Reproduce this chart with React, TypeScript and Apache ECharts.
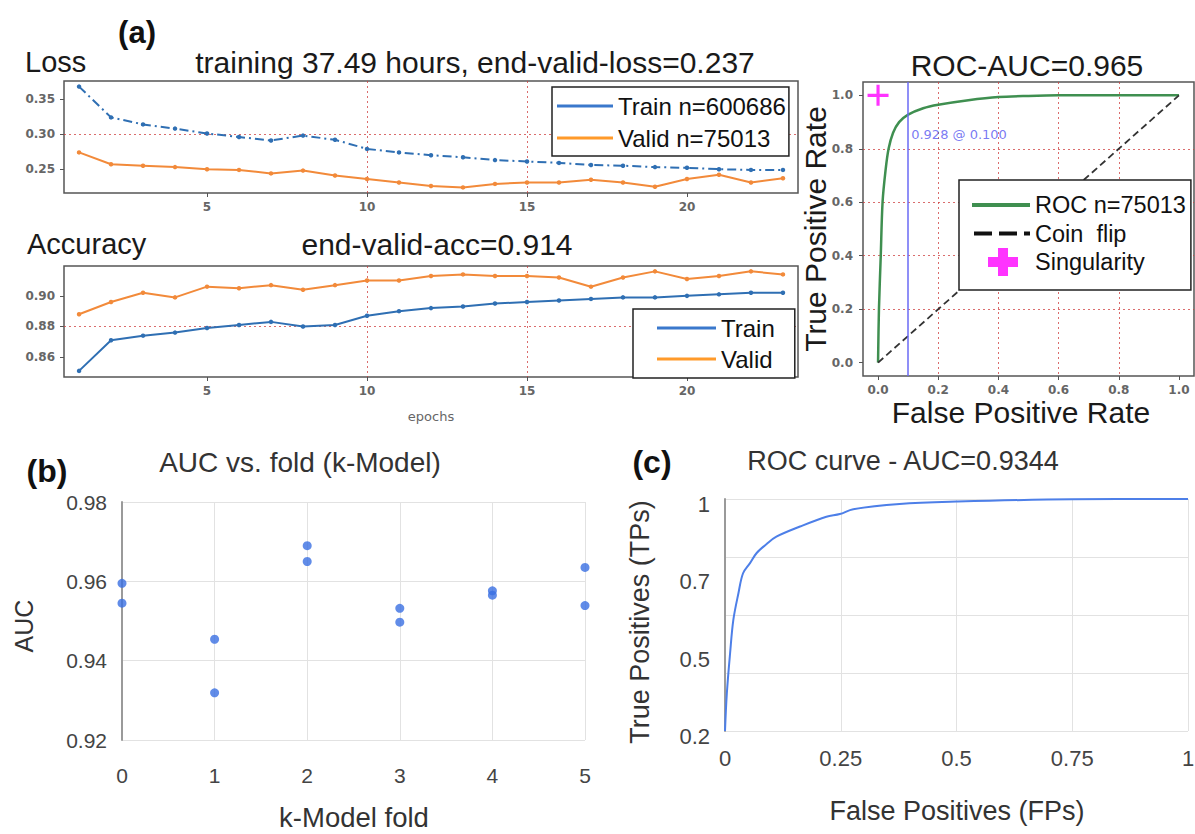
import React, { useEffect, useRef } from "react";
import * as echarts from "echarts";

// ---------- data ----------
const EPOCHS = [1, 2, 3, 4, 5, 6, 7, 8, 9, 10, 11, 12, 13, 14, 15, 16, 17, 18, 19, 20, 21, 22, 23];
const LOSS_TRAIN = [0.368, 0.324, 0.314, 0.308, 0.301, 0.296, 0.291, 0.298, 0.292, 0.279, 0.274, 0.27, 0.267, 0.263, 0.261, 0.259, 0.256, 0.255, 0.253, 0.252, 0.25, 0.249, 0.249];
const LOSS_VALID = [0.274, 0.257, 0.255, 0.253, 0.25, 0.249, 0.244, 0.248, 0.241, 0.236, 0.231, 0.226, 0.224, 0.229, 0.231, 0.231, 0.235, 0.231, 0.225, 0.236, 0.242, 0.231, 0.237];
const ACC_TRAIN = [0.851, 0.871, 0.874, 0.876, 0.879, 0.881, 0.883, 0.88, 0.881, 0.887, 0.89, 0.892, 0.893, 0.895, 0.896, 0.897, 0.898, 0.899, 0.899, 0.9, 0.901, 0.902, 0.902];
const ACC_VALID = [0.888, 0.896, 0.902, 0.899, 0.906, 0.905, 0.907, 0.904, 0.907, 0.91, 0.91, 0.913, 0.914, 0.913, 0.913, 0.912, 0.906, 0.912, 0.916, 0.911, 0.913, 0.916, 0.914];

const ROC_FPR = [0, 0.003, 0.009, 0.015, 0.025, 0.035, 0.05, 0.07, 0.1, 0.15, 0.2, 0.3, 0.4, 0.5, 0.6, 1.0];
const ROC_TPR = [0, 0.2, 0.4, 0.6, 0.72, 0.8, 0.86, 0.9, 0.928, 0.952, 0.965, 0.982, 0.994, 0.998, 1.0, 1.0];
const COIN_X = [0, 1];
const COIN_Y = [0, 1];
const SING_X = [0];
const SING_Y = [1];
const ANNOT = { x: 0.1, y: 0.853, text: "0.928 @ 0.100" };
const THRESH_FPR = 0.1;

const FOLDS = [0, 0, 1, 1, 2, 2, 3, 3, 4, 4, 5, 5];
const FOLD_AUC = [0.9595, 0.9545, 0.9454, 0.9319, 0.969, 0.965, 0.9532, 0.9497, 0.9576, 0.9565, 0.9635, 0.9539];

const C_FPR = [0, 0.004, 0.011, 0.018, 0.029, 0.039, 0.054, 0.068, 0.09, 0.111, 0.162, 0.219, 0.248, 0.277, 0.377, 0.5, 0.75, 1.0];
const C_TPR = [0.2, 0.33, 0.468, 0.583, 0.675, 0.744, 0.779, 0.813, 0.845, 0.87, 0.905, 0.939, 0.948, 0.965, 0.983, 0.991, 0.999, 1.0];
const C_Y_LABELS = ["0.2", "0.5", "0.7", "1"];

// ---------- styles ----------
const BLUE = "#2f6fb3";
const ORANGE = "#f28a3a";
const GREEN = "#3f8f50";
const MAGENTA = "#ff00ff";
const SANS = "Liberation Sans, Arial, sans-serif";
const MPL = "DejaVu Sans, sans-serif";
const COIN_NAME = "Coin\u00a0\u00a0flip";

function lineIcon(w: number, h: number, t: number) {
  return `path://M0,0L0.01,0M${w},${h}L${w - 0.01},${h}M0,${h / 2 - t / 2}h${w}v${t}h-${w}z`;
}
const DASH_ICON = "path://M0,0L0.01,0M58,28L57.99,28M2,12h18v4h-18zM27,12h18v4h-18zM52,12h6v4h-6z";
const PLUS_ICON_LEGEND = "path://M0,0L0.01,0M58,28L57.99,28M16,9h10v-9h10v9h10v10h-10v9h-10v-9h-10z";
const PLUS_SYMBOL = "path://M8.5,0h3v8.5h8.5v3h-8.5v8.5h-3v-8.5h-8.5v-3h8.5z";

const zip = (a: number[], b: number[]) => a.map((v, i) => [v, b[i]]);

function txt(text: string, x: number, y: number, size: number, o: any = {}) {
  return {
    type: "text",
    x,
    y,
    rotation: o.rotation || 0,
    z: 100,
    style: {
      text,
      fontSize: size,
      fontFamily: o.family || SANS,
      fontWeight: o.weight || "normal",
      fill: o.color || "#1a1a1a",
      textAlign: o.align || "center",
      align: o.align || "center",
      textVerticalAlign: "middle",
      verticalAlign: "middle",
    },
  };
}

const redSplit = {
  show: true,
  showMinLine: false,
  showMaxLine: false,
  lineStyle: { color: "rgba(205,60,60,0.75)", width: 1, type: [2, 3] },
};
const aLabel = {
  color: "#666",
  fontSize: 12,
  fontWeight: "bold",
  fontFamily: MPL,
  showMinLabel: false,
  showMaxLabel: false,
  margin: 8,
};
const aTick = (vals: number[]) => ({ show: true, length: 4, customValues: vals, lineStyle: { color: "#555", width: 1 } });
const aGrid = { show: true, borderColor: "#555", borderWidth: 1.5, backgroundColor: "#fff", outerBoundsMode: "none" };
const gSplit = { show: true, lineStyle: { color: "#e2e2e2", width: 1 } };
const gLabel = { color: "#444", fontSize: 21, fontFamily: SANS };

export default function App() {
  const ref = useRef<HTMLDivElement>(null);
  useEffect(() => {
    if (!ref.current) return;
    const chart = echarts.init(ref.current, undefined, { renderer: "svg" });
    const option: any = {
      animation: false,
      backgroundColor: "#fff",
      grid: [
        { left: 64, top: 81, width: 734, height: 112, ...aGrid },
        { left: 64, top: 266, width: 734, height: 111, ...aGrid },
        { left: 863, top: 82, width: 331, height: 294, ...aGrid },
        { left: 122, top: 502, width: 463, height: 238, show: false, outerBoundsMode: "none" },
        { left: 725, top: 499, width: 463, height: 232, show: false, outerBoundsMode: "none" },
      ],
      xAxis: [
        {
          gridIndex: 0, type: "value", min: 0.53, max: 23.47, minInterval: 5, maxInterval: 5,
          axisLine: { show: false, onZero: false }, axisTick: aTick([5, 10, 15, 20]),
          axisLabel: aLabel, splitLine: redSplit,
        },
        {
          gridIndex: 1, type: "value", min: 0.53, max: 23.47, minInterval: 5, maxInterval: 5,
          axisLine: { show: false, onZero: false }, axisTick: aTick([5, 10, 15, 20]),
          axisLabel: aLabel, splitLine: redSplit,
          name: "epochs", nameLocation: "middle", nameGap: 33,
          nameTextStyle: { color: "#666", fontSize: 13, fontFamily: MPL },
        },
        {
          gridIndex: 2, type: "value", min: -0.05, max: 1.05, minInterval: 0.2, maxInterval: 0.2,
          axisLine: { show: false, onZero: false }, axisTick: aTick([0, 0.2, 0.4, 0.6, 0.8, 1.0]),
          axisLabel: { ...aLabel, formatter: (v: number) => v.toFixed(1) }, splitLine: redSplit,
        },
        {
          gridIndex: 3, type: "value", min: 0, max: 5, interval: 1,
          axisLine: { show: false, onZero: false }, axisTick: { show: false },
          axisLabel: { ...gLabel, margin: 25 }, splitLine: gSplit,
        },
        {
          gridIndex: 4, type: "value", min: 0, max: 1, interval: 0.25,
          axisLine: { show: false, onZero: false }, axisTick: { show: false },
          axisLabel: { ...gLabel, fontSize: 22, margin: 16 }, splitLine: gSplit,
        },
      ],
      yAxis: [
        {
          gridIndex: 0, type: "value", min: 0.216, max: 0.376, minInterval: 0.05, maxInterval: 0.05,
          axisLine: { show: false, onZero: false }, axisTick: aTick([0.25, 0.3, 0.35]),
          axisLabel: { ...aLabel, margin: 9, formatter: (v: number) => v.toFixed(2) }, splitLine: redSplit,
        },
        {
          gridIndex: 1, type: "value", min: 0.847, max: 0.9195, minInterval: 0.02, maxInterval: 0.02,
          axisLine: { show: false, onZero: false }, axisTick: aTick([0.86, 0.88, 0.9]),
          axisLabel: { ...aLabel, margin: 9, formatter: (v: number) => v.toFixed(2) }, splitLine: redSplit,
        },
        {
          gridIndex: 2, type: "value", min: -0.05, max: 1.05, minInterval: 0.2, maxInterval: 0.2,
          axisLine: { show: false, onZero: false }, axisTick: aTick([0, 0.2, 0.4, 0.6, 0.8, 1.0]),
          axisLabel: { ...aLabel, margin: 10, formatter: (v: number) => v.toFixed(1) }, splitLine: redSplit,
        },
        {
          gridIndex: 3, type: "value", min: 0.92, max: 0.98, interval: 0.02,
          axisLine: { show: true, onZero: false, lineStyle: { color: "#9a9a9a", width: 2 } },
          axisTick: { show: false },
          axisLabel: { ...gLabel, margin: 15, formatter: (v: number) => v.toFixed(2) }, splitLine: gSplit,
        },
        {
          gridIndex: 4, type: "value", position: "left", min: 0.2, max: 1, interval: 0.2,
          axisLine: { show: true, onZero: false, lineStyle: { color: "#9a9a9a", width: 2 } },
          axisTick: { show: false }, axisLabel: { show: false }, splitLine: gSplit,
        },
        {
          gridIndex: 4, type: "value", position: "left", offset: 0, min: 0, max: 3, interval: 1,
          axisLine: { show: false, onZero: false }, axisTick: { show: false }, splitLine: { show: false },
          axisLabel: {
            ...gLabel, fontSize: 22, margin: 15, verticalAlign: "top", lineHeight: 11,
            formatter: (v: number) => C_Y_LABELS[v] ?? "",
          },
        },
      ],
      legend: [
        {
          orient: "vertical", left: 552, top: 87, padding: [7, 3, 6, 5],
          itemWidth: 56, itemHeight: 20, itemGap: 8, selectedMode: false,
          backgroundColor: "#fff", borderColor: "#222", borderWidth: 1.5,
          textStyle: { fontSize: 24, fontFamily: SANS, color: "#111", lineHeight: 20 },
          data: [
            { name: "Train n=600686", icon: lineIcon(56, 20, 3), itemStyle: { color: "#3a78cc", borderWidth: 0 } },
            { name: "Valid n=75013", icon: lineIcon(56, 20, 3), itemStyle: { color: "#ff9a2a", borderWidth: 0 } },
          ],
        },
        {
          orient: "vertical", left: 633, top: 309, padding: [7, 20, 7, 24],
          itemWidth: 59, itemHeight: 20, itemGap: 7, selectedMode: false,
          backgroundColor: "#fff", borderColor: "#222", borderWidth: 1.5,
          textStyle: { fontSize: 24, fontFamily: SANS, color: "#111", lineHeight: 20 },
          data: [
            { name: "Train", icon: lineIcon(59, 20, 3), itemStyle: { color: "#3a78cc", borderWidth: 0 } },
            { name: "Valid", icon: lineIcon(59, 20, 3), itemStyle: { color: "#ff9a2a", borderWidth: 0 } },
          ],
        },
        {
          orient: "vertical", left: 959, top: 180, padding: [11, 5, 14, 13],
          itemWidth: 58, itemHeight: 28, itemGap: 0.5, selectedMode: false,
          backgroundColor: "#fff", borderColor: "#222", borderWidth: 1.5,
          textStyle: { fontSize: 23.5, fontFamily: SANS, color: "#111", lineHeight: 28 },
          data: [
            { name: "ROC n=75013", icon: lineIcon(58, 28, 4), itemStyle: { color: GREEN, borderWidth: 0 } },
            { name: COIN_NAME, icon: DASH_ICON, itemStyle: { color: "#111", borderWidth: 0 } },
            { name: "Singularity", icon: PLUS_ICON_LEGEND, itemStyle: { color: MAGENTA, borderWidth: 0 } },
          ],
        },
      ],
      series: [
        {
          name: "Train n=600686", type: "line", xAxisIndex: 0, yAxisIndex: 0, data: zip(EPOCHS, LOSS_TRAIN),
          symbol: "circle", symbolSize: 4.5, itemStyle: { color: BLUE },
          lineStyle: { color: BLUE, width: 2, type: [9, 4, 2, 4] },
        },
        {
          name: "Valid n=75013", type: "line", xAxisIndex: 0, yAxisIndex: 0, data: zip(EPOCHS, LOSS_VALID),
          symbol: "circle", symbolSize: 4.5, itemStyle: { color: ORANGE }, lineStyle: { color: ORANGE, width: 2 },
        },
        {
          name: "Train", type: "line", xAxisIndex: 1, yAxisIndex: 1, data: zip(EPOCHS, ACC_TRAIN),
          symbol: "circle", symbolSize: 4.5, itemStyle: { color: BLUE }, lineStyle: { color: BLUE, width: 2 },
        },
        {
          name: "Valid", type: "line", xAxisIndex: 1, yAxisIndex: 1, data: zip(EPOCHS, ACC_VALID),
          symbol: "circle", symbolSize: 4.5, itemStyle: { color: ORANGE }, lineStyle: { color: ORANGE, width: 2 },
        },
        {
          name: "ROC n=75013", type: "line", xAxisIndex: 2, yAxisIndex: 2, data: zip(ROC_FPR, ROC_TPR),
          showSymbol: false, symbol: "none", smooth: 0.3, itemStyle: { color: GREEN }, lineStyle: { color: GREEN, width: 2.5 },
          markLine: {
            silent: true, symbol: ["none", "none"], label: { show: false },
            lineStyle: { color: "#6a6af5", width: 1.5, type: "solid" },
            data: [{ xAxis: THRESH_FPR }],
          },
        },
        {
          name: COIN_NAME, type: "line", xAxisIndex: 2, yAxisIndex: 2, data: zip(COIN_X, COIN_Y),
          showSymbol: false, symbol: "none", itemStyle: { color: "#222" }, lineStyle: { color: "#333", width: 1.8, type: [7, 4] },
        },
        {
          name: "Singularity", type: "scatter", xAxisIndex: 2, yAxisIndex: 2, data: zip(SING_X, SING_Y),
          symbol: PLUS_SYMBOL, symbolSize: 21, itemStyle: { color: MAGENTA }, z: 5,
        },
        {
          name: "annot", type: "scatter", xAxisIndex: 2, yAxisIndex: 2, data: [[ANNOT.x, ANNOT.y]],
          symbolSize: 0.1, itemStyle: { color: "rgba(0,0,0,0)" },
          label: { show: true, position: "right", distance: 3, formatter: ANNOT.text, color: "#5757f0", fontSize: 13, fontFamily: MPL },
        },
        {
          name: "AUC", type: "scatter", xAxisIndex: 3, yAxisIndex: 3, data: zip(FOLDS, FOLD_AUC),
          symbol: "circle", symbolSize: 9, itemStyle: { color: "#3a6fe2" },
        },
        {
          name: "ROC curve", type: "line", xAxisIndex: 4, yAxisIndex: 4, data: zip(C_FPR, C_TPR),
          showSymbol: false, symbol: "none", smooth: 0.35, itemStyle: { color: "#4d7fe8" }, lineStyle: { color: "#4d7fe8", width: 2 },
        },
      ],
      graphic: [
        txt("(a)", 137, 32, 31, { weight: "bold", color: "#111" }),
        txt("Loss", 25, 62, 29, { align: "left" }),
        txt("training 37.49 hours, end-valid-loss=0.237", 475, 62, 30),
        txt("Accuracy", 27, 244, 29, { align: "left" }),
        txt("end-valid-acc=0.914", 437, 244, 30),
        txt("ROC-AUC=0.965", 1027, 65, 30),
        txt("True Positive Rate", 815, 229, 30, { rotation: Math.PI / 2 }),
        txt("False Positive Rate", 1021, 412, 30),
        txt("(b)", 47, 471, 32, { weight: "bold", color: "#111" }),
        txt("AUC vs. fold (k-Model)", 300, 462, 28, { color: "#333" }),
        txt("AUC", 24, 626, 25, { rotation: Math.PI / 2, color: "#333" }),
        txt("k-Model fold", 354, 817, 27.5, { color: "#333" }),
        txt("(c)", 652, 462, 32, { weight: "bold", color: "#111" }),
        txt("ROC curve - AUC=0.9344", 903, 461, 27, { color: "#333" }),
        txt("True Positives (TPs)", 640, 622, 27, { rotation: Math.PI / 2, color: "#333" }),
        txt("False Positives (FPs)", 957, 811, 27, { color: "#333" }),
      ],
    };
    chart.setOption(option);
    return () => chart.dispose();
  }, []);
  return (
    <div
      ref={ref}
      style={{ position: "absolute", left: 0, top: 0, width: 1195, height: 834, background: "#fff" }}
    />
  );
}
